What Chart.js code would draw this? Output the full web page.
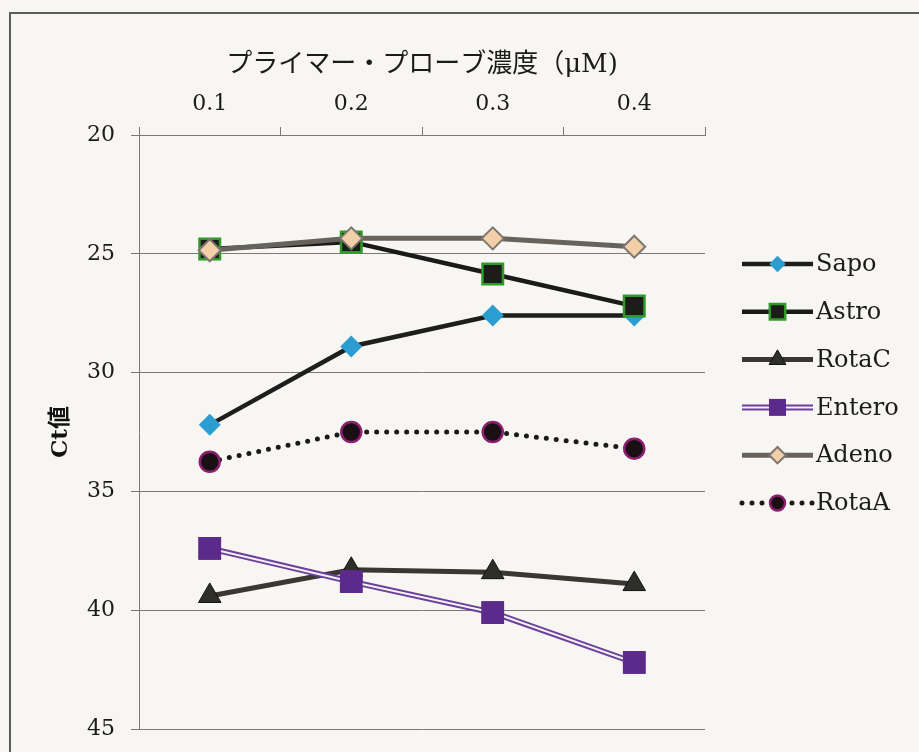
<!DOCTYPE html>
<html>
<head>
<meta charset="utf-8">
<script src="https://cdn.jsdelivr.net/npm/chart.js@4/dist/chart.umd.min.js"></script>
<style>
    html, body { margin: 0; padding: 0; background: #f8f6f2; overflow: hidden; }
    #frame { position: absolute; left: 9px; top: 12px; width: 1000px; height: 1000px; border: 2px solid #5c5c5c; }
    #chart { position: absolute; left: 0; top: 0; }
</style>
</head>
<body>
<div id="frame"></div>
<canvas id="chart" width="919" height="752"></canvas>
<script>
// primer/probe concentration (uM) vs Ct
const categories = ["0.1", "0.2", "0.3", "0.4"];
const seriesNames = ["Sapo", "Astro", "RotaC", "Entero", "Adeno", "RotaA"];
const sapo = [32.2, 28.9, 27.6, 27.6];
const astro = [24.8, 24.5, 25.85, 27.2];
const rotaC = [39.4, 38.3, 38.4, 38.9];
const entero = [37.4, 38.8, 40.1, 42.2];
const adeno = [24.85, 24.35, 24.35, 24.7];
const rotaA = [33.75, 32.5, 32.5, 33.2];
const yMin = 20, yMax = 45, yStep = 5;

const serif = '"DejaVu Serif", "Noto Sans CJK JP", serif';
const gridColor = "#7c7a76";

// Entero is drawn as a purple line with a light core, like a double line
const doubleLine = {
    id: "doubleLine",
    afterDatasetDraw(chart, args) {
        const ds = chart.data.datasets[args.index];
        if (!ds.innerColor) return;
        const ctx = chart.ctx;
        const pts = args.meta.data;
        ctx.save();
        ctx.strokeStyle = ds.innerColor;
        ctx.lineWidth = ds.innerWidth;
        ctx.beginPath();
        pts.forEach((p, i) => i ? ctx.lineTo(p.x, p.y) : ctx.moveTo(p.x, p.y));
        ctx.stroke();
        pts.forEach((p) => p.draw(ctx, chart.chartArea));
        ctx.restore();
    }
};

// legend on the right: line with the marker in the middle
const sideLegend = {
    id: "sideLegend",
    afterDraw(chart) {
        const ctx = chart.ctx;
        const x0 = chart.chartArea.right + 37;
        const x1 = x0 + 71;
        const xm = (x0 + x1) / 2;
        chart.data.datasets.forEach((ds, i) => {
            const y = 264 + i * 47.8;
            ctx.save();
            ctx.strokeStyle = ds.borderColor;
            ctx.lineWidth = ds.borderWidth;
            ctx.lineCap = ds.borderCapStyle || "butt";
            ctx.setLineDash(ds.borderDash || []);
            ctx.beginPath();
            ctx.moveTo(x0, y);
            ctx.lineTo(x1, y);
            ctx.stroke();
            if (ds.innerColor) {
                ctx.strokeStyle = ds.innerColor;
                ctx.lineWidth = ds.innerWidth;
                ctx.beginPath();
                ctx.moveTo(x0, y);
                ctx.lineTo(x1, y);
                ctx.stroke();
            }
            ctx.setLineDash([]);
            ctx.fillStyle = ds.pointBackgroundColor;
            ctx.strokeStyle = ds.pointBorderColor;
            ctx.lineWidth = ds.pointBorderWidth;
            Chart.helpers.drawPoint(ctx, {
                pointStyle: ds.pointStyle,
                radius: ds.pointRadius * 0.75,
                borderWidth: ds.pointBorderWidth,
                rotation: 0
            }, xm, y);
            ctx.fillStyle = "#1b1b1b";
            ctx.font = "24px " + serif;
            ctx.textBaseline = "middle";
            ctx.textAlign = "left";
            ctx.fillText(seriesNames[i], x1 + 3, y + 1);
            ctx.restore();
        });
    }
};

new Chart(document.getElementById("chart").getContext("2d"), {
    type: "line",
    data: {
        labels: categories,
        datasets: [
            {
                label: seriesNames[0], data: sapo, order: 5,
                borderColor: "#1e1e1e", borderWidth: 4.5,
                pointStyle: "rectRot", pointRadius: 11,
                pointBackgroundColor: "#2c9dd0", pointBorderColor: "#2c9dd0", pointBorderWidth: 0
            },
            {
                label: seriesNames[1], data: astro, order: 4,
                borderColor: "#1a1a1a", borderWidth: 4.5,
                pointStyle: "rect", pointRadius: 14.5,
                pointBackgroundColor: "#1c1c1a", pointBorderColor: "#2f9a2a", pointBorderWidth: 2.5
            },
            {
                label: seriesNames[2], data: rotaC, order: 3,
                borderColor: "#3a3733", borderWidth: 5,
                pointStyle: "triangle", pointRadius: 13,
                pointBackgroundColor: "#2f2f29", pointBorderColor: "#121212", pointBorderWidth: 1
            },
            {
                label: seriesNames[3], data: entero, order: 2,
                borderColor: "#6b3f9c", borderWidth: 6,
                innerColor: "#f4f0f6", innerWidth: 2,
                pointStyle: "rect", pointRadius: 16,
                pointBackgroundColor: "#5b2a8a", pointBorderColor: "#5b2a8a", pointBorderWidth: 0
            },
            {
                label: seriesNames[4], data: adeno, order: 1,
                borderColor: "#67625c", borderWidth: 5,
                pointStyle: "rectRot", pointRadius: 11,
                pointBackgroundColor: "#f2cfa8", pointBorderColor: "#7d7670", pointBorderWidth: 2
            },
            {
                label: seriesNames[5], data: rotaA, order: 0,
                borderColor: "#1a1a1a", borderWidth: 5,
                borderDash: [0, 10], borderCapStyle: "round",
                pointStyle: "circle", pointRadius: 10,
                pointBackgroundColor: "#1a1013", pointBorderColor: "#8b1f70", pointBorderWidth: 2.5
            }
        ]
    },
    options: {
        responsive: false,
        animation: false,
        layout: { padding: { top: 0, left: 0, right: 214, bottom: 23 } },
        plugins: {
            legend: { display: false },
            tooltip: { enabled: false }
        },
        scales: {
            x: {
                position: "top",
                offset: true,
                afterFit: (scale) => {
                    scale.height = 135;
                    scale.paddingLeft = 0;
                    scale.paddingRight = 0;
                },
                grid: { offset: true, drawOnChartArea: false, drawTicks: true, tickLength: 8, color: gridColor },
                border: { color: gridColor, width: 1 },
                ticks: { color: "#1b1b1b", padding: 10, font: { family: serif, size: 22 } },
                title: {
                    display: true,
                    text: "プライマー・プローブ濃度（μM)",
                    color: "#1b1b1b",
                    padding: { top: 50, bottom: 0 },
                    font: { family: serif, size: 26 }
                }
            },
            y: {
                reverse: true,
                min: yMin,
                max: yMax,
                afterFit: (scale) => {
                    scale.width = 139;
                    scale.paddingTop = 0;
                    scale.paddingBottom = 0;
                },
                grid: { color: gridColor, tickLength: 8, lineWidth: 1 },
                border: { color: gridColor, width: 1 },
                ticks: { stepSize: yStep, color: "#1b1b1b", padding: 16, font: { family: serif, size: 22 } },
                title: {
                    display: true,
                    text: "Ct値",
                    color: "#111",
                    padding: { top: 47, bottom: 0 },
                    font: { family: serif, size: 23, weight: "bold" }
                }
            }
        }
    },
    plugins: [doubleLine, sideLegend]
});
</script>
</body>
</html>
